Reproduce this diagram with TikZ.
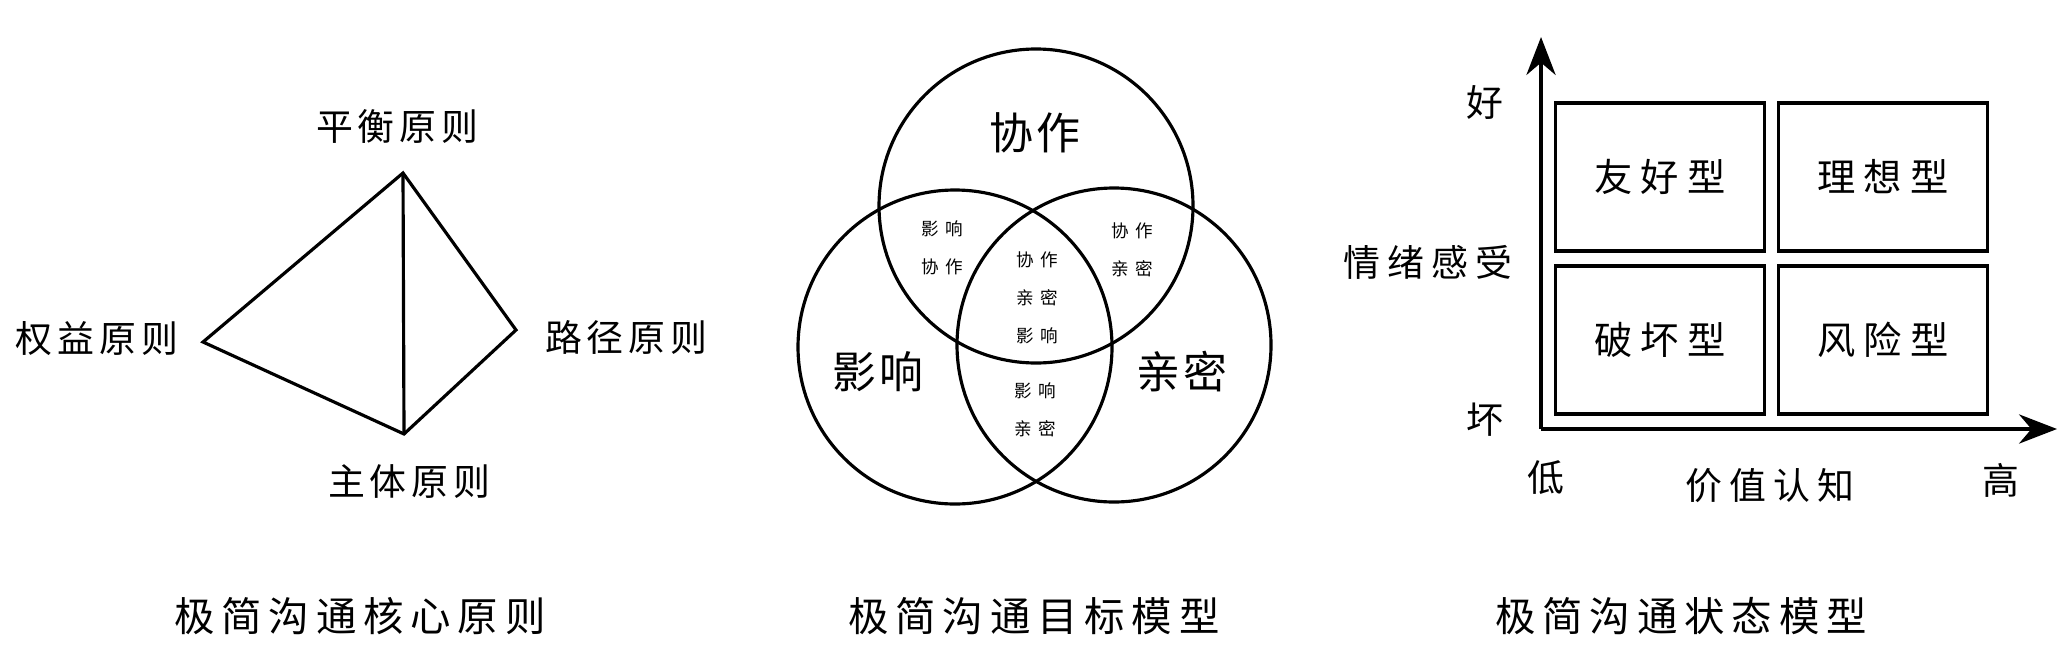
\documentclass[tikz,border=0pt]{standalone}
\usepackage{fontspec}
\setmainfont{Noto Sans CJK SC}
\usetikzlibrary{arrows.meta}
\newcommand{\lsp}[1]{\addfontfeature{LetterSpace=#1}}
\begin{document}
\begin{tikzpicture}[x=0.1mm,y=-0.1mm,
  lbl/.style={inner sep=0pt, font=\fontsize{10.5}{12}\selectfont\lsp{13}},
  big/.style={inner sep=0pt, font=\fontsize{12.5}{14}\selectfont\lsp{7}},
  small/.style={inner sep=0pt, align=center, font=\fontsize{5}{10.8}\selectfont\lsp{37}},
  title/.style={inner sep=0pt, font=\fontsize{11.5}{13}\selectfont\lsp{17}},
  axl/.style={inner sep=0pt, font=\fontsize{10.5}{12}\selectfont\lsp{20}},
  qbox/.style={draw, line width=1.1pt, minimum width=20.9mm, minimum height=14.8mm, inner sep=0pt, font=\fontsize{10.9}{12}\selectfont\lsp{21}},
  edge/.style={line width=0.9pt, line join=miter},
  ring/.style={line width=0.9pt},
  axis/.style={line width=1.1pt, -{Stealth[length=10.8pt, width=8.3pt]}}
]
\useasboundingbox (0,0) rectangle (2072,669);
% ---------- panel 1 ----------
\coordinate (T) at (403,173);
\coordinate (L) at (203,342);
\coordinate (R) at (516,330);
\coordinate (B) at (404,434);
\draw[edge] (T) -- (L) -- (B) -- (R) -- cycle;
\draw[edge] (T) -- (B);
\node[lbl] (pinghe) at (397,126) {平衡原则};
\node[lbl] (quanyi) at (97,339) {权益原则};
\node[lbl] (lujing) at (626,337) {路径原则};
\node[lbl] (zhuti) at (409,482) {主体原则};
\node[title] (t1) at (360,616) {极简沟通核心原则};
% ---------- panel 2 ----------
\node[ring, draw, circle, minimum size=31.4mm, inner sep=0pt] (ctop) at (1036,206) {};
\node[ring, draw, circle, minimum size=31.4mm, inner sep=0pt] (cleft) at (955,347) {};
\node[ring, draw, circle, minimum size=31.4mm, inner sep=0pt] (cright) at (1114,345) {};
\node[big] (xiezuo) at (1035,133) {协作};
\node[big] (yingxiang) at (878,372) {影响};
\node[big] (qinmi) at (1182,372) {亲密};
\node[small] (s1) at (942,248) {影响\\协作};
\node[small] (s2) at (1132,250) {协作\\亲密};
\node[small] (s3) at (1037,298) {协作\\亲密\\影响};
\node[small] (s4) at (1035,410) {影响\\亲密};
\node[title] (t2) at (1034,616) {极简沟通目标模型};
% ---------- panel 3 ----------
\coordinate (O) at (1541,429);
\coordinate (ytip) at (1541,37);
\coordinate (xtip) at (2057,429);
\draw[axis] (O) -- (ytip);
\draw[axis] (O) -- (xtip);
\node[qbox] (tl) at (1660,177) {友好型};
\node[qbox] (tr) at (1883,177) {理想型};
\node[qbox] (bl) at (1660,340) {破坏型};
\node[qbox] (br) at (1883,340) {风险型};
\node[axl] (hao) at (1485,102) {好};
\node[axl] (qingxu) at (1428,262) {情绪感受};
\node[axl] (huai) at (1485,420) {坏};
\node[axl] (di) at (1546,478) {低};
\node[axl] (jiazhi) at (1770,486) {价值认知};
\node[axl] (gao) at (2001,480) {高};
\node[title] (t3) at (1681,616) {极简沟通状态模型};
\end{tikzpicture}
\end{document}
